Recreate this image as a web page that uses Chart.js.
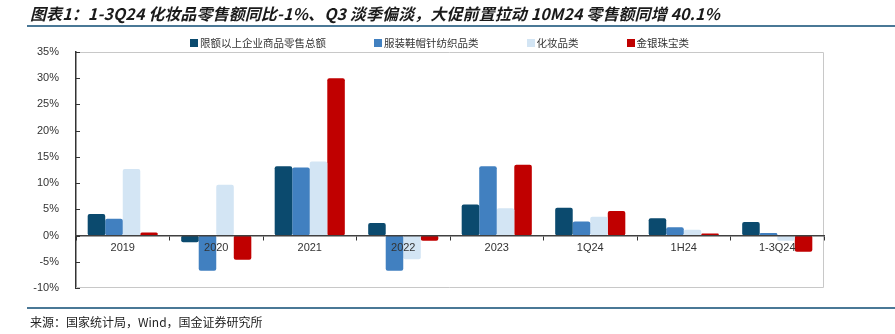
<!DOCTYPE html>
<html>
<head>
<meta charset="utf-8">
<script src="https://cdn.jsdelivr.net/npm/chart.js@4.4.1/dist/chart.umd.min.js"></script>
<style>
  html, body { margin: 0; padding: 0; background: #fff; }
  #wrap { position: relative; width: 895px; height: 334px; overflow: hidden; }
  #chart { position: absolute; left: 0; top: 0; }
  #title { position: absolute; left: 30px; top: 1px; font: italic bold 16px "Noto Sans CJK SC", sans-serif; letter-spacing: 0.1px; color: #1a1a1a; white-space: nowrap; }
  .rule { position: absolute; left: 27px; right: 0; height: 2px; background: #4a7896; }
  #legend { position: absolute; top: 35px; left: 190px; display: flex; font: 10.5px "Noto Sans CJK SC", sans-serif; color: #333; white-space: nowrap; }
  #legend span.item { display: flex; align-items: center; margin-right: 48px; }
  #legend span.box { display: inline-block; width: 8px; height: 8px; margin-right: 2px; }
  #source { position: absolute; left: 30px; top: 313px; font: 12px "Noto Sans CJK SC", sans-serif; color: #222; white-space: nowrap; }
</style>
</head>
<body>
<div id="wrap">
  <canvas id="chart" width="895" height="334"></canvas>
  <div id="title">图表1：1-3Q24 化妆品零售额同比-1%、Q3 淡季偏淡，大促前置拉动 10M24 零售额同增 40.1%</div>
  <div class="rule" style="top:25px"></div>
  <div id="legend"></div>
  <div class="rule" style="top:307px"></div>
  <div id="source">来源：国家统计局，Wind，国金证券研究所</div>
</div>
<script>
var periods = ['2019', '2020', '2021', '2022', '2023', '1Q24', '1H24', '1-3Q24'];
var seriesNames = ['限额以上企业商品零售总额', '服装鞋帽针纺织品类', '化妆品类', '金银珠宝类'];
var totalRetail = [4.1, -1.3, 13.2, 2.4, 5.9, 5.3, 3.3, 2.6];
var apparel = [3.2, -6.7, 13.0, -6.7, 13.2, 2.7, 1.6, 0.5];
var cosmetics = [12.7, 9.7, 14.1, -4.5, 5.2, 3.6, 1.1, -1.0];
var jewelry = [0.6, -4.6, 30.0, -1.0, 13.5, 4.7, 0.4, -3.1];
var yTicks = [-10, -5, 0, 5, 10, 15, 20, 25, 30, 35];

var colors = ['#0b4a6e', '#4180c0', '#d3e5f4', '#c00000'];
var values = [totalRetail, apparel, cosmetics, jewelry];

var datasets = [];
for (var i = 0; i < seriesNames.length; i++) {
  datasets.push({
    label: seriesNames[i],
    data: values[i],
    backgroundColor: colors[i],
    borderRadius: 2,
    borderSkipped: false,
    categoryPercentage: 0.75,
    barPercentage: 1.0
  });
}

// html legend
var legend = document.getElementById('legend');
seriesNames.forEach(function(name, i) {
  var item = document.createElement('span');
  item.className = 'item';
  item.innerHTML = '<span class="box" style="background:' + colors[i] + '"></span>' + name;
  legend.appendChild(item);
});

// frame around plot + small inner ticks on y axis
var framePlugin = {
  id: 'frame',
  beforeDatasetsDraw: function(chart) {
    var a = chart.chartArea, ctx = chart.ctx, y = chart.scales.y;
    ctx.save();
    ctx.strokeStyle = '#c8c8c8';
    ctx.lineWidth = 1;
    ctx.beginPath();
    ctx.moveTo(a.left, a.top + 0.5);
    ctx.lineTo(a.right - 0.5, a.top + 0.5);
    ctx.lineTo(a.right - 0.5, a.bottom - 0.5);
    ctx.lineTo(a.left, a.bottom - 0.5);
    ctx.stroke();
    ctx.strokeStyle = '#333';
    ctx.beginPath();
    yTicks.forEach(function(t) {
      var py = Math.round(y.getPixelForValue(t)) + 0.5;
      ctx.moveTo(a.left, py);
      ctx.lineTo(a.left + 4, py);
    });
    ctx.stroke();
    ctx.restore();
  }
};

new Chart(document.getElementById('chart'), {
  type: 'bar',
  data: { labels: periods, datasets: datasets },
  options: {
    responsive: false,
    animation: false,
    layout: { padding: { top: 52, right: 71, bottom: 46, left: 0 } },
    plugins: { legend: { display: false }, tooltip: { enabled: false } },
    scales: {
      x: {
        position: { y: 0 },
        grid: { drawOnChartArea: false, drawTicks: true, tickLength: 4, color: '#333', z: 1 },
        border: { color: '#404040', width: 1.5, z: 1 },
        ticks: { color: '#333', font: { family: 'Liberation Sans', size: 11 }, padding: 2, z: 1 }
      },
      y: {
        min: -10,
        max: 35,
        afterFit: function(scale) { scale.width = 76; },
        afterBuildTicks: function(scale) { scale.ticks = yTicks.map(function(v) { return { value: v }; }); },
        grid: { display: false },
        border: { color: '#333', width: 1.5 },
        ticks: {
          color: '#333',
          font: { family: 'Liberation Sans', size: 11 },
          padding: 9,
          callback: function(v) { return v + '%'; }
        }
      }
    }
  },
  plugins: [framePlugin]
});
</script>
</body>
</html>
